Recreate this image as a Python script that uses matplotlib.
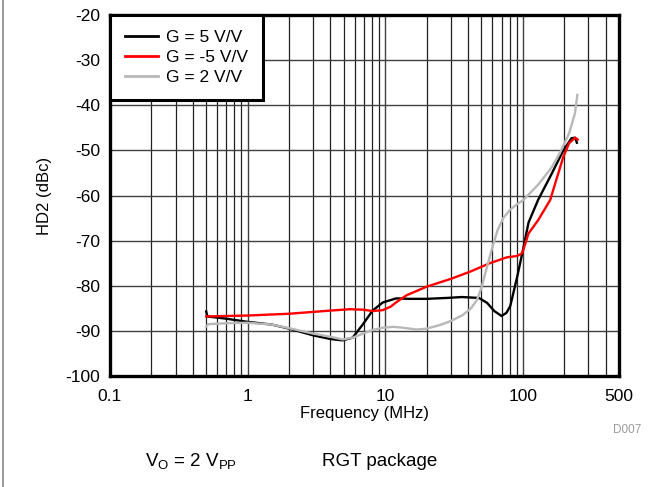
import matplotlib
matplotlib.use("Agg")
import matplotlib.pyplot as plt
from matplotlib.lines import Line2D

plt.rcParams['font.family'] = ['Liberation Sans', 'DejaVu Sans']
plt.rcParams['mathtext.default'] = 'regular'
plt.rcParams['axes.unicode_minus'] = False

# G = 5 V/V
black_f = [0.5, 0.51, 0.7, 1, 1.5, 2, 3, 4, 4.9, 5.8, 6.9, 8.1, 9.6, 12, 15, 20, 28, 36,
           48, 55, 62, 70, 76, 81, 91, 100, 110, 129, 160, 197, 226, 240, 247]
black_db = [-85.7, -86.8, -87.3, -88.0, -88.6, -89.5, -91.0, -91.8, -92.1, -91.5, -88.5,
            -85.5, -83.7, -82.8, -82.9, -82.9, -82.7, -82.5, -82.7, -83.8, -85.6, -86.7,
            -86.0, -84.5, -78.0, -72.2, -66.0, -61.0, -55.5, -50.0, -47.3, -47.2, -48.3]

# G = -5 V/V
red_f = [0.5, 1, 2, 4, 5.5, 6.9, 8.1, 9.6, 11, 12.1, 14.3, 20, 29.8, 41.2, 57.6, 76.5,
         90.8, 99, 110, 129, 158, 197, 217, 240, 250]
red_db = [-86.8, -86.6, -86.2, -85.5, -85.2, -85.3, -85.6, -85.4, -84.6, -83.6, -82.1,
          -80.2, -78.5, -76.9, -75.0, -73.7, -73.4, -72.8, -68.4, -65.5, -61.0, -51.4,
          -48.4, -47.2, -47.6]

# G = 2 V/V
gray_f = [0.5, 0.52, 0.7, 1, 1.5, 2, 3, 4, 4.9, 5.8, 6.9, 8.1, 9.6, 11.4, 13.5, 16.9, 20,
          25, 30, 36.5, 42, 46.3, 50, 54.9, 60, 65.5, 72, 80.6, 90, 101, 130, 160, 185,
          217, 239, 249]
gray_db = [-89.0, -88.5, -88.3, -88.2, -88.6, -89.4, -90.6, -91.3, -91.9, -91.5, -90.6,
           -89.8, -89.3, -89.1, -89.3, -89.7, -89.5, -88.7, -87.8, -86.5, -85.0, -83.2,
           -80.5, -75.8, -71.5, -67.7, -65.0, -63.2, -62.0, -61.0, -57.5, -54.0, -50.7,
           -46.2, -41.8, -37.7]

x_ticks = [0.1, 1, 10, 100, 500]
x_labels = ['0.1', '1', '10', '100', '500']
y_ticks = [-100, -90, -80, -70, -60, -50, -40, -30, -20]

fig = plt.figure(figsize=(6.61, 4.87), dpi=100)
ax = fig.add_axes([0.1664, 0.2279, 0.7701, 0.7413])

ax.plot(black_f, black_db, color='black', lw=1.7, label='G = 5 V/V', zorder=3)
ax.plot(red_f, red_db, color='#ff0000', lw=1.7, label='G = -5 V/V', zorder=3)
ax.plot(gray_f, gray_db, color='#b8b8b8', lw=1.7, label='G = 2 V/V', zorder=3)

ax.set_xscale('log')
ax.set_xlim(0.1, 500)
ax.set_ylim(-100, -20)
ax.set_xticks(x_ticks)
ax.set_xticklabels(x_labels)
ax.set_yticks(y_ticks)
ax.tick_params(which='both', length=0, labelsize=12.5, pad=9)
ax.tick_params(axis='y', pad=7)
ax.grid(which='major', color='#404040', lw=1.0)
ax.grid(which='minor', axis='x', color='#202020', lw=0.9)
for s in ax.spines.values():
    s.set_linewidth(2.4)

ax.set_xlabel('Frequency (MHz)', fontsize=12, labelpad=2)
ax.set_ylabel('HD2 (dBc)', fontsize=12, labelpad=10)

leg = ax.legend(loc='upper left', borderaxespad=0, fancybox=False, framealpha=1,
                edgecolor='black', fontsize=12.5, handlelength=1.9, labelspacing=0.28,
                borderpad=0.85, handletextpad=0.5)
leg.get_frame().set_linewidth(2.2)
for h in leg.get_lines():
    h.set_linewidth(2)

fig.text(0.971, 0.117, 'D007', color='#999999', fontsize=8.5, ha='right', va='center')
fig.text(0.289, 0.053, 'V$_O$ = 2 V$_{PP}$', fontsize=13.5, ha='center', va='center')
fig.text(0.575, 0.053, 'RGT package', fontsize=13.5, ha='center', va='center')

fig.add_artist(Line2D([0.005, 0.005], [0, 1], transform=fig.transFigure,
                      color='#888888', lw=1.2))

fig.savefig('out.png', dpi=100)
